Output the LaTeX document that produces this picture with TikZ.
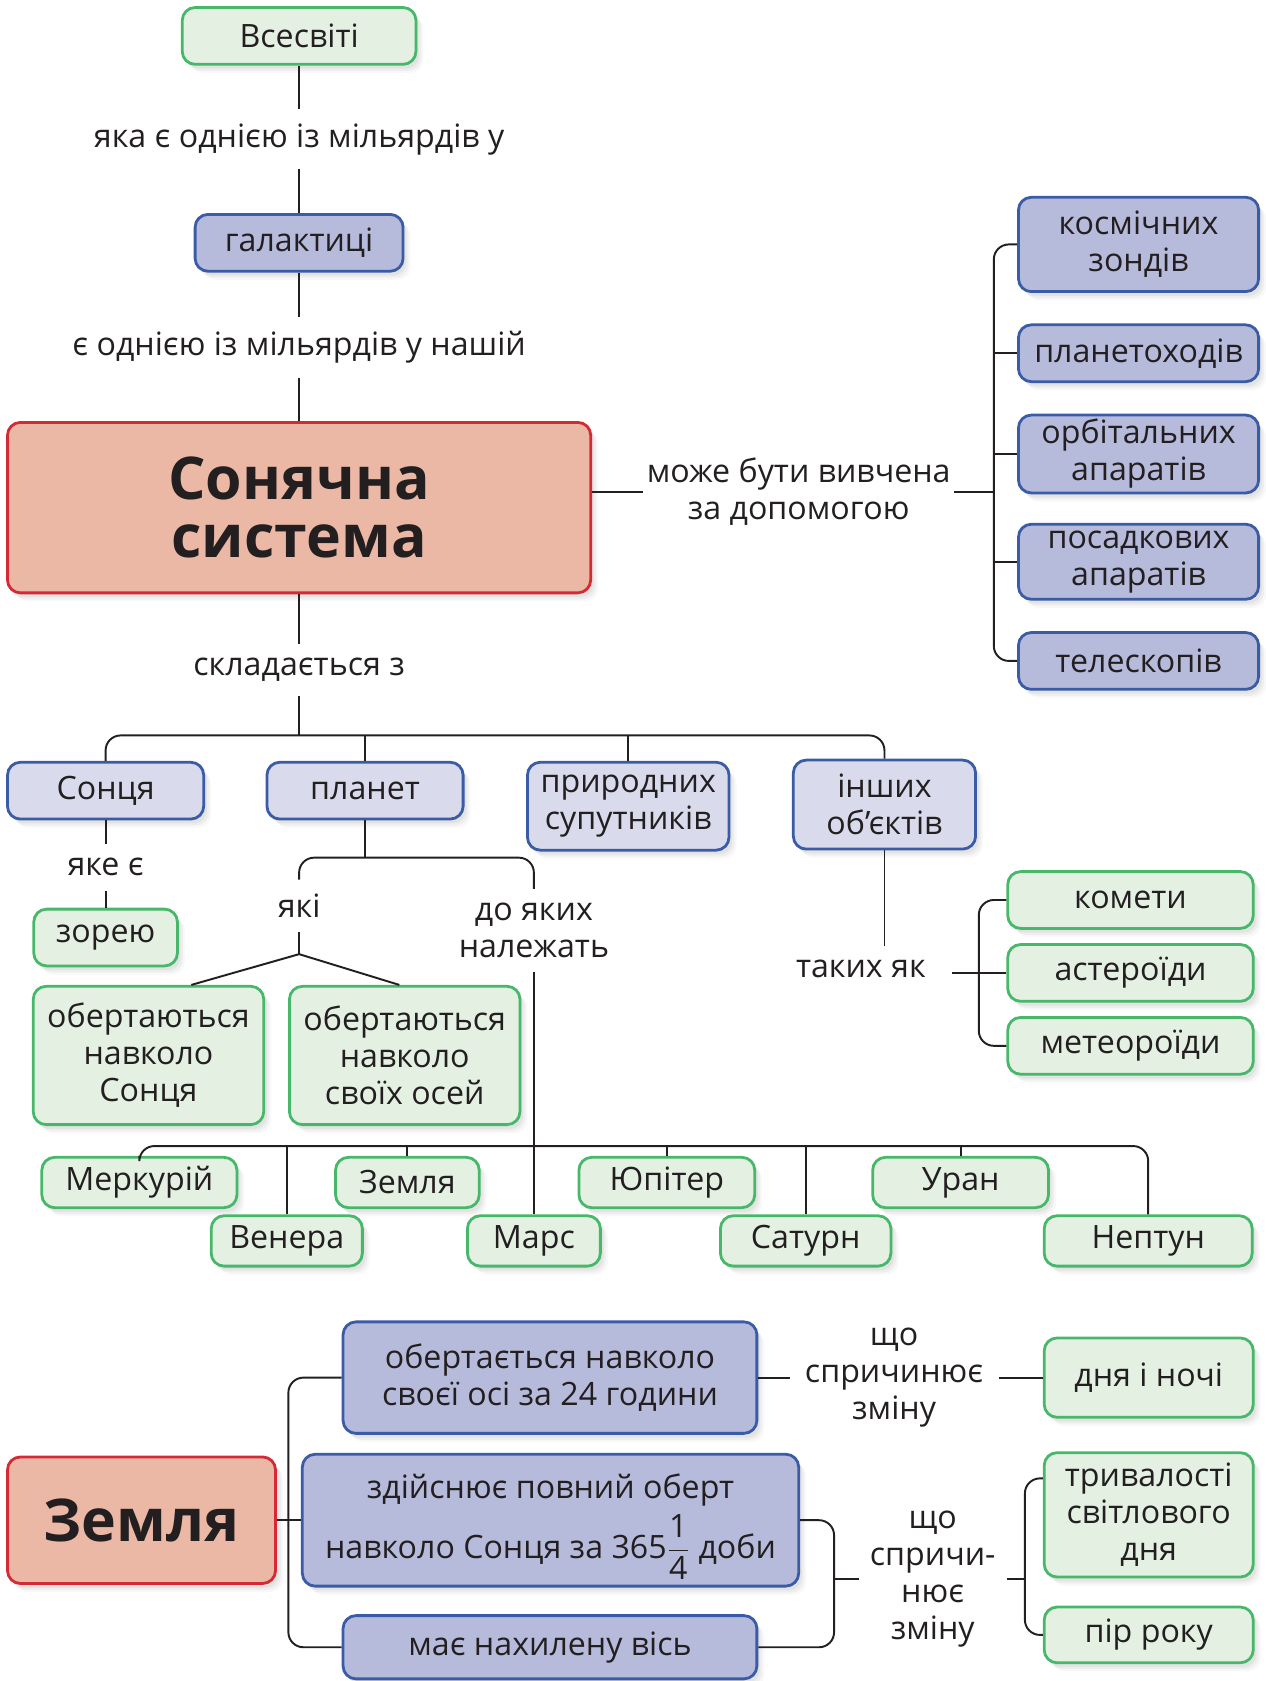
\documentclass[tikz,border=0pt]{standalone}
\usepackage{amsmath}
\usepackage{fontspec}
\setmainfont{Open Sans}
\usetikzlibrary{calc,shadows}
\definecolor{mapink}{HTML}{231F20}
\definecolor{mapgreen}{HTML}{47B86A}
\definecolor{mapgreenbg}{HTML}{E3F0E2}
\definecolor{mapblue}{HTML}{3A5BA5}
\definecolor{maplav}{HTML}{B7BBDB}
\definecolor{maplavbg}{HTML}{D9DBEC}
\definecolor{mapred}{HTML}{D42A35}
\definecolor{mapsalmon}{HTML}{EBB8A6}
\tikzset{
  bx/.style={rounded corners=6pt, line width=1.3pt, align=center, inner sep=2pt, text=mapink, minimum height=26.5pt,
    drop shadow={shadow xshift=3.5pt, shadow yshift=-4pt, opacity=.06},
    drop shadow={shadow xshift=2.5pt, shadow yshift=-3pt, opacity=.08},
    drop shadow={shadow xshift=1.5pt, shadow yshift=-2pt, opacity=.10}},
  gn/.style={bx, draw=mapgreen, fill=mapgreenbg},
  lv/.style={bx, draw=mapblue, fill=maplavbg},
  dk/.style={bx, draw=mapblue, fill=maplav},
  hd/.style={bx, draw=mapred, fill=mapsalmon, font=\fontsize{27.5}{27}\selectfont\bfseries},
  lk/.style={inner xsep=5pt, inner ysep=6.5pt, align=center, text=mapink},
  ln/.style={line width=0.9pt, draw=mapink},
  br/.style={ln, rounded corners=7pt},
}
\begin{document}
\begin{tikzpicture}[x=0.5pt, y=-0.5pt, font=\fontsize{15}{17.25}\selectfont]
  \useasboundingbox (0,0) rectangle (1180,1568);
  \node[gn, minimum width=109pt] (vs) at (279,33.5) {Всесвіті};
  \node[lk] (l1) at (279,130) {яка є однією із мільярдів у};
  \node[dk, minimum width=97pt] (gal) at (279,226.5) {галактиці};
  \node[lk] (l2) at (279,324) {є однією із мільярдів у нашій};
  \node[hd, minimum width=272pt, minimum height=79.5pt] (ss) at (279,473.5) {Сонячна\\система};
  \node[lk] (l3) at (279,625) {складається з};
  \coordinate (bus) at (279,686);
  \foreach \a/\b in {vs/l1,l1/gal,gal/l2,l2/ss,ss/l3} \draw[ln] (\a) -- (\b);
  \draw[ln] (l3) -- (bus);
  \node[lv, minimum width=91.5pt] (son) at (98.5,737.5) {Сонця};
  \node[lv, minimum width=91.5pt] (pla) at (340.5,737.5) {планет};
  \node[lv, minimum width=94pt, minimum height=41pt] (pry) at (586,752) {природних\\супутників};
  \node[lv, minimum width=85pt, minimum height=41.5pt] (ins) at (825,750.5) {інших\\об’єктів};
  \draw[br] (son) |- (bus) -| (ins);
  \foreach \p in {pla,pry} \draw[ln] (\p) -- (\p |- bus);
  \node[lk] (l4) at (98.5,809) {яке є};
  \node[gn, minimum width=67pt] (zor) at (98.5,874.5) {зорею};
  \foreach \a/\b in {son/l4,l4/zor} \draw[ln] (\a) -- (\b);
  \coordinate (pb) at (340.5,800);
  \node[lk] (l5) at (279,845) {які};
  \node[lk] (l6) at (498,868) {до яких\\належать};
  \draw[ln] (pla) -- (pb);
  \draw[br] (l5) |- (pb) -| (l6);
  \coordinate (jn) at (279,890);
  \node[gn, minimum width=107.5pt, minimum height=64.5pt] (ob1) at (138.5,984.5) {обертаються\\навколо\\Сонця};
  \node[gn, minimum width=107.5pt, minimum height=64.5pt] (ob2) at (377.5,984.5) {обертаються\\навколо\\своїх осей};
  \draw[ln] (l5) -- (jn);
  \draw[ln] (jn) -- ($(ob1.north)+(40,0)$);
  \draw[ln] (jn) -- ($(ob2.north)+(-5,0)$);
  \node[gn, minimum width=91pt, minimum height=23.5pt] (mer) at (130,1103) {Меркурій};
  \node[gn, minimum width=67pt, minimum height=23.5pt] (zem) at (380,1103) {Земля};
  \node[gn, minimum width=82pt, minimum height=23.5pt] (yup) at (622,1103) {Юпітер};
  \node[gn, minimum width=82pt, minimum height=23.5pt] (ura) at (896,1103) {Уран};
  \node[gn, minimum width=70.5pt, minimum height=23.5pt] (ven) at (267.5,1157.5) {Венера};
  \node[gn, minimum width=62pt, minimum height=23.5pt] (mar) at (498,1157.5) {Марс};
  \node[gn, minimum width=79.5pt, minimum height=23.5pt] (sat) at (751.5,1157.5) {Сатурн};
  \node[gn, minimum width=97pt, minimum height=23.5pt] (nep) at (1071,1157.5) {Нептун};
  \coordinate (plb) at (498,1069);
  \draw[br] (mer) |- (plb) -| (nep);
  \foreach \p in {ven,zem,yup,sat,ura} \draw[ln] (\p) -- (\p |- plb);
  \draw[ln] (l6) -- (mar);
  \node[lk, inner xsep=1.5pt] (mozh) at (745,459) {може бути вивчена\\за допомогою};
  \node[dk, minimum width=112pt, minimum height=44pt] (kos) at (1062,228) {космічних\\зондів};
  \node[dk, minimum width=112pt] (plh) at (1062,329.5) {планетоходів};
  \node[dk, minimum width=112pt, minimum height=35.5pt] (orb) at (1062,423.5) {орбітальних\\апаратів};
  \node[dk, minimum width=112pt, minimum height=35pt] (pos) at (1062,524) {посадкових\\апаратів};
  \node[dk, minimum width=112pt] (tel) at (1062,616.5) {телескопів};
  \coordinate (brk) at (927,459);
  \draw[ln] (ss.east |- mozh) -- (mozh);
  \draw[ln] (mozh) -- (brk);
  \draw[br] (kos) -| (brk) |- (tel);
  \foreach \p in {plh,orb,pos} \draw[ln] (\p) -- (\p -| brk);
  \node[lk] (tak) at (803,904) {таких як};
  \node[gn, minimum width=114.5pt] (kom) at (1054.5,839.5) {комети};
  \node[gn, minimum width=114.5pt] (ast) at (1054.5,907.5) {астероїди};
  \node[gn, minimum width=114.5pt] (met) at (1054.5,975.5) {метеороїди};
  \coordinate (brk2) at (913,907.5);
  \draw[ln] (ins) -- (ins |- tak.north);
  \draw[br] (kom) -| (brk2) |- (met);
  \draw[ln] ($(tak.east |- ast)+(14,0)$) -- (ast);
  \node[hd, minimum width=125pt, minimum height=59pt] (zem2) at (132,1418) {Земля};
  \node[dk, minimum width=193pt, minimum height=52pt] (obv) at (513,1285) {обертається навколо\\своєї осі за 24 години};
  \node[dk, minimum width=231.5pt, minimum height=61.5pt] (zdi) at (513.5,1418) {\rule{0pt}{17.5pt}здійснює повний оберт\\[3pt]навколо Сонця за 365$\genfrac{}{}{0.8pt}{0}{\text{1}}{\text{4}}$ доби};
  \node[dk, minimum width=193pt, minimum height=29.5pt] (maye) at (513,1536.5) {має нахилену вісь};
  \coordinate (brz) at (269,1418);
  \draw[ln] (zem2) -- (zdi);
  \draw[br] (obv) -| (brz) |- (maye);
  \node[lk, inner xsep=7pt] (spr1) at (834,1285) {що\\спричинює\\зміну};
  \node[gn, minimum width=97.5pt, minimum height=37pt] (dny) at (1071.5,1285) {дня і ночі};
  \foreach \a/\b in {obv/spr1,spr1/dny} \draw[ln] (\a) -- (\b);
  \coordinate (bz2) at (778,1473);
  \coordinate (bz3) at (956,1473);
  \node[lk] (spr2) at (870,1473) {що\\спричи-\\нює\\зміну};
  \node[gn, minimum width=97.5pt, minimum height=58pt] (tri) at (1071.5,1413) {тривалості\\світлового\\дня};
  \node[gn, minimum width=97.5pt, minimum height=26pt] (pir) at (1071.5,1525) {пір року};
  \draw[br] (zdi.east) -| (bz2) |- (maye.east);
  \draw[ln] (bz2) -- (spr2);
  \draw[ln] (spr2) -- (bz3);
  \draw[br] ([yshift=17pt]tri.west) -| (bz3) |- (pir);
\end{tikzpicture}
\end{document}
